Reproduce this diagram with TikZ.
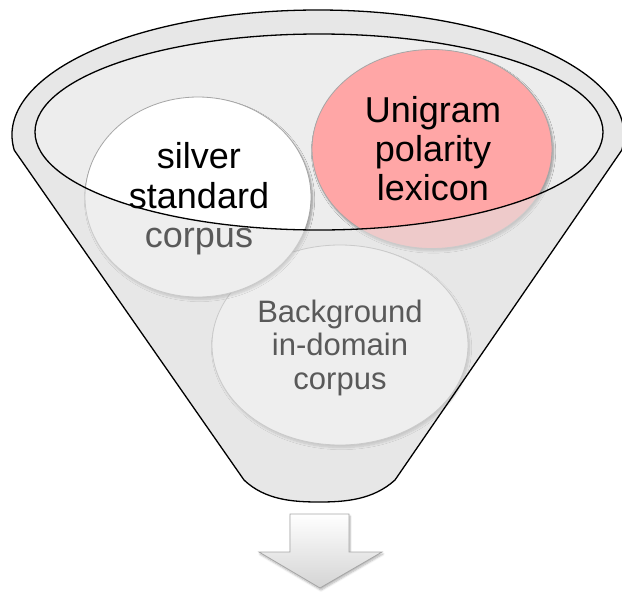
\documentclass[tikz,border=0pt]{standalone}
\usepackage{fontspec}
\setmainfont{Liberation Sans}
\usetikzlibrary{shapes.geometric,shadows.blur}
\definecolor{funnelgray}{HTML}{EDEDED}
\definecolor{veilgray}{HTML}{E3E3E3}
\definecolor{rimline}{HTML}{A6A6A6}
\definecolor{lexpink}{HTML}{FFA6A6}
\definecolor{dimtext}{HTML}{595959}
\begin{document}
\begin{tikzpicture}[x=1pt,y=-1pt,
  bubble/.style={ellipse, draw=rimline, line width=0.8pt, inner sep=0pt,
    blur shadow={shadow xshift=1.5pt, shadow yshift=-2.5pt,
      shadow blur steps=8, shadow opacity=35}},
  bigword/.style={anchor=base, inner sep=0pt, font=\fontsize{36}{40}\selectfont},
  smallword/.style={anchor=base, inner sep=0pt, text=dimtext,
    font=\fontsize{31}{34}\selectfont},
  rim/.style={draw=black, line width=1.3pt}]
\useasboundingbox (0,0) rectangle (622,592);

% funnel outline: top of the mouth, the two sides and the rounded spout
\path[save path=\funnelpath]
  (318,135) ++(173:306 and 125)
  arc[start angle=173, end angle=367, x radius=306, y radius=125]
  -- (395,480) .. controls (373,500) and (345,502) .. (319,502)
  .. controls (293,502) and (265,500) .. (244,480) -- cycle;

% back of the funnel
\fill[funnelgray, use path=\funnelpath];

% the three ingredients
\node[bubble, fill=white, minimum width=256pt, minimum height=200pt] (bg) at (340,345) {};
\node[bubble, fill=white, minimum width=226pt, minimum height=200pt] (silver) at (198,197) {};
\node[bubble, fill=lexpink, minimum width=240pt, minimum height=199pt] (uni) at (432,149) {};

% translucent front of the funnel, open at the mouth
\fill[veilgray, opacity=0.6, even odd rule]
  (318,135) ++(173:306 and 125)
  arc[start angle=173, end angle=367, x radius=306, y radius=125]
  -- (395,480) .. controls (373,500) and (345,502) .. (319,502)
  .. controls (293,502) and (265,500) .. (244,480) -- cycle
  (319,132) ellipse [x radius=284, y radius=98];

% outlines
\draw[rim, use path=\funnelpath];
\draw[rim] (319,132) ellipse [x radius=284, y radius=98];

% labels
\node[bigword] (s1) at (199,168) {silver};
\node[bigword] (s2) at (199,208) {standard};
\node[bigword, text=dimtext] (s3) at (199,247) {corpus};
\node[bigword] (u1) at (433,122) {Unigram};
\node[bigword] (u2) at (433,161) {polarity};
\node[bigword] (u3) at (433,200) {lexicon};
\node[smallword] (b1) at (340,322) {Background};
\node[smallword] (b2) at (340,355) {in-domain};
\node[smallword] (b3) at (340,389) {corpus};

% output arrow
\shade[top color=white, bottom color=black!17, draw=rimline, line width=0.8pt,
  blur shadow={shadow xshift=1pt, shadow yshift=-2pt, shadow blur steps=6, shadow opacity=30}]
  (290,514) -- (349,514) -- (349,552) -- (382,552) -- (320,588)
  -- (259,552) -- (290,552) -- cycle;
\end{tikzpicture}
\end{document}
